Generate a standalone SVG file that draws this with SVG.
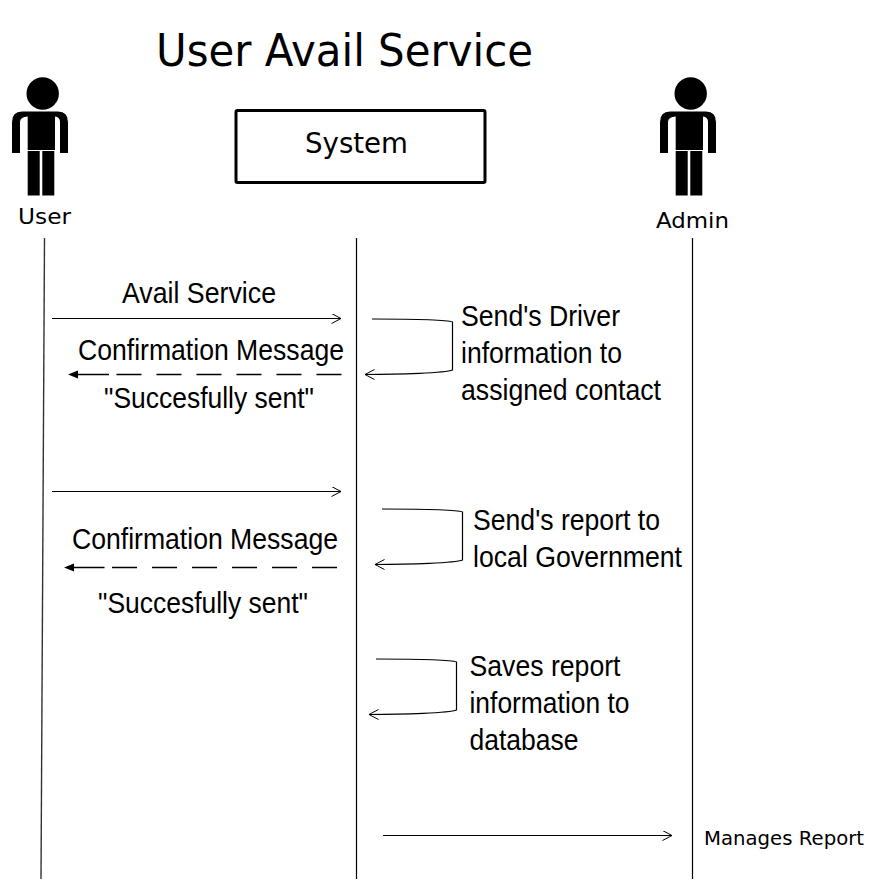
<svg xmlns="http://www.w3.org/2000/svg" width="896" height="893" viewBox="0 0 896 893">
<style>
.t{font-family:"Liberation Sans",Arial,sans-serif;font-size:30px;fill:#000}
.v{font-family:"DejaVu Sans",Verdana,sans-serif;fill:#000}
.l{fill:none;stroke:#000;stroke-width:1.2}
.ll{fill:none;stroke:#333;stroke-width:1.4}
.d{fill:none;stroke:#000;stroke-width:1.4;stroke-dasharray:25 15 25 15 25 15 25 15 25 15 25 7.500 40}
</style>
<defs>
<marker id="open" markerWidth="12" markerHeight="12" refX="10.500" refY="5" orient="auto" markerUnits="userSpaceOnUse"><path d="M1 0L10.500 5L1 10" fill="none" stroke="#000" stroke-width="1"/></marker>
<g id="person">
<circle cx="42.700" cy="93.500" r="16.200"/>
<path d="M12 153V122Q12 111.500 22 111.500H58Q68 111.500 68 122V153H60V122Q60 117 55 116.500V150H27.700V116.500Q20 117 20 122V153Z" fill="#000"/>
<rect x="27.700" y="151" width="12" height="44.500"/>
<rect x="42.300" y="151" width="12" height="44.500"/>
</g>
</defs>
<rect width="896" height="893" fill="#fff"/>
<g id="title"><text class="v" x="156" y="66" font-size="44" textLength="377" lengthAdjust="spacingAndGlyphs">User Avail Service</text></g>
<g id="user"><use href="#person"/><text class="v" x="18" y="224" font-size="22" textLength="53" lengthAdjust="spacingAndGlyphs">User</text></g>
<g id="system"><rect x="236" y="110.500" width="249" height="72" rx="1.500" fill="#fff" stroke="#000" stroke-width="3"/><text class="v" x="305" y="153" font-size="28" textLength="103" lengthAdjust="spacingAndGlyphs">System</text></g>
<g id="admin"><use href="#person" x="648"/><text class="v" x="656" y="228" font-size="22" textLength="73" lengthAdjust="spacingAndGlyphs">Admin</text></g>
<g id="connectors">
<path class="ll" d="M44.500 238L41 879"/>
<path class="l" d="M356.500 238V879"/>
<path class="l" d="M692.500 238V879"/>
<path class="l" marker-end="url(#open)" d="M52 318.500H341"/>
<path class="d" d="M341.500 374.500H74"/>
<path d="M78 370.500L68 374.500L78 378.500Z" fill="#000"/>
<path class="l" marker-end="url(#open)" d="M372 319C400 319 445 319 452.500 322V370C445 373 400 374.500 365 374.500"/>
<path class="l" marker-end="url(#open)" d="M52 491.500H341"/>
<path class="d" d="M337 567.500H70"/>
<path d="M74 563.500L64 567.500L74 571.500Z" fill="#000"/>
<path class="l" marker-end="url(#open)" d="M382 509C410 509 455 509 462.500 512V560C455 563 410 564.500 375 564.500"/>
<path class="l" marker-end="url(#open)" d="M376 659C404 659 449 659 456.500 662V710C449 713 404 714.500 369 714.500"/>
<path class="l" marker-end="url(#open)" d="M383 835.500H672"/>
</g>
<g id="labels">
<text class="t" x="122" y="303" textLength="154" lengthAdjust="spacingAndGlyphs">Avail Service</text>
<text class="t" x="78" y="360" textLength="266" lengthAdjust="spacingAndGlyphs">Confirmation Message</text>
<text class="t" x="104" y="408" textLength="210" lengthAdjust="spacingAndGlyphs">"Succesfully sent"</text>
<text class="t" x="461" y="326" textLength="159" lengthAdjust="spacingAndGlyphs">Send's Driver</text>
<text class="t" x="461" y="363" textLength="161" lengthAdjust="spacingAndGlyphs">information to</text>
<text class="t" x="461" y="400" textLength="200" lengthAdjust="spacingAndGlyphs">assigned contact</text>
<text class="t" x="72" y="549" textLength="266" lengthAdjust="spacingAndGlyphs">Confirmation Message</text>
<text class="t" x="98" y="613" textLength="210" lengthAdjust="spacingAndGlyphs">"Succesfully sent"</text>
<text class="t" x="473" y="530" textLength="187" lengthAdjust="spacingAndGlyphs">Send's report to</text>
<text class="t" x="473" y="567" textLength="209" lengthAdjust="spacingAndGlyphs">local Government</text>
<text class="t" x="469.500" y="676" textLength="151" lengthAdjust="spacingAndGlyphs">Saves report</text>
<text class="t" x="469.500" y="713" textLength="160" lengthAdjust="spacingAndGlyphs">information to</text>
<text class="t" x="469.500" y="750" textLength="109" lengthAdjust="spacingAndGlyphs">database</text>
<text class="v" x="704" y="845" font-size="20" textLength="160" lengthAdjust="spacingAndGlyphs">Manages Report</text>
</g>
</svg>
